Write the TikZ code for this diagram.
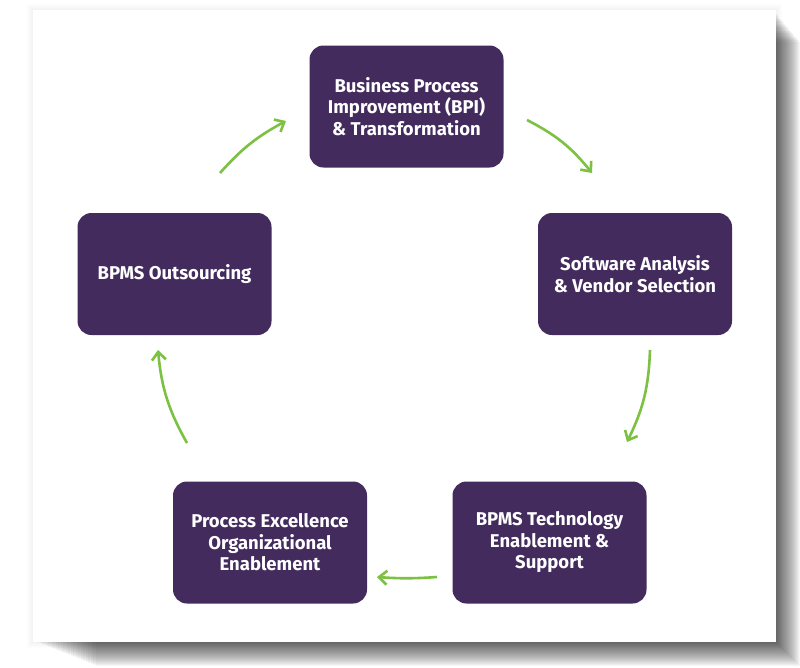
\documentclass[tikz,border=0pt]{standalone}
\usepackage{fontspec}
\setmainfont{Fira Sans}
\usetikzlibrary{arrows.meta}
\definecolor{boxpurple}{HTML}{432B5E}
\definecolor{arrowgreen}{HTML}{7CC142}
\tikzset{
  stage/.style={fill=boxpurple, rounded corners=14pt, minimum width=194pt, minimum height=122pt,
    text=white, align=center, font=\fontsize{18.5}{21.5}\selectfont\bfseries, inner sep=0pt},
  flow/.style={draw=arrowgreen, line width=2.6pt, -{Straight Barb[length=8pt,width=14pt,line width=2.6pt]}}
}
\begin{document}
\begin{tikzpicture}[x=1pt,y=-1pt]
\useasboundingbox (0,0) rectangle (800,667);
% faint halo round the card
\foreach \i in {1,...,6}{
  \fill[black, opacity=0.008] (33-\i,10-\i) rectangle (776+\i,642+\i);
}
% drop shadow, darkest along the card edge
\foreach \i in {0,...,23}{
  \fill[black, opacity=0.035] (38+\i*2.5,14+\i*1.2) rectangle (777+\i,643+\i);
}
\fill[white] (33,10) rectangle (776,642);
% stages
\node[stage] (bpi) at (406.5,106.5) {Business Process\\Improvement (BPI)\\\& Transformation};
\node[stage] (sw) at (635,274) {Software Analysis\\\& Vendor Selection};
\node[stage] (tech) at (549.5,542.5) {BPMS Technology\\Enablement \&\\Support};
\node[stage] (pex) at (270,542.5) {Process Excellence\\Organizational\\Enablement};
\node[stage] (out) at (174.5,274) {BPMS Outsourcing};
% cycle arrows
\coordinate (a1s) at (527,120); \coordinate (a1e) at (592,173);
\coordinate (a2s) at (650,350); \coordinate (a2e) at (627,442);
\coordinate (a3s) at (437,577); \coordinate (a3e) at (377,577);
\coordinate (a4s) at (187,443); \coordinate (a4e) at (158,350);
\coordinate (a5s) at (220,173); \coordinate (a5e) at (286,121);
\draw[flow] (a1s) to[bend left=12] (a1e);
\draw[flow] (a2s) to[bend left=12] (a2e);
\draw[flow] (a3s) to[bend left=4] (a3e);
\draw[flow] (a4s) to[bend left=12] (a4e);
\draw[flow] (a5s) to[bend left=10] (a5e);
\end{tikzpicture}
\end{document}
